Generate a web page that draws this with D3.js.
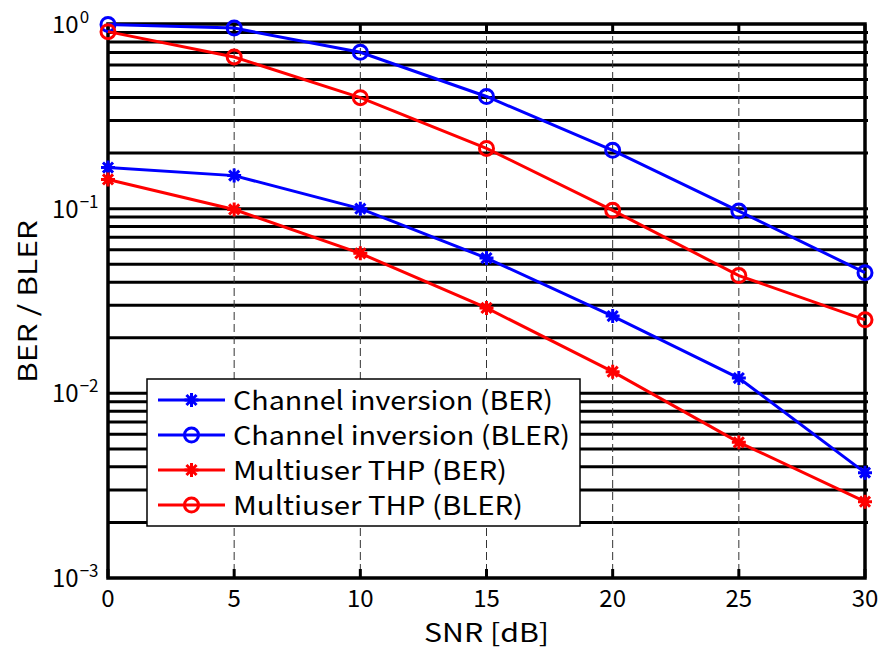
<!DOCTYPE html>
<html>
<head>
<meta charset="utf-8">
<script src="https://cdn.jsdelivr.net/npm/d3@7"></script>
<style>
	body { margin: 0; background: #fff; }
	svg text { font-family: "Noto Sans CJK JP", "Noto Sans", sans-serif; fill: #000; }
</style>
</head>
<body>
<svg id="chart" width="883" height="651"></svg>
<script>
// SNR points (dB)
const snr = [0, 5, 10, 15, 20, 25, 30];

// values
const ciBer = [0.167, 0.151, 0.100, 0.054, 0.0262, 0.0121, 0.00372];
const ciBler = [0.995, 0.95, 0.703, 0.405, 0.207, 0.097, 0.045];
const thpBer = [0.144, 0.099, 0.0573, 0.029, 0.0131, 0.00543, 0.00259];
const thpBler = [0.909, 0.663, 0.399, 0.212, 0.098, 0.0434, 0.025];

const xTicks = [0, 5, 10, 15, 20, 25, 30];
const yDecades = [1e-3, 1e-2, 1e-1, 1e0];

const series = [
	{ name: "Channel inversion (BER)", values: ciBer, color: "#0000ff", marker: "star", w: 320 },
	{ name: "Channel inversion (BLER)", values: ciBler, color: "#0000ff", marker: "circle", w: 337 },
	{ name: "Multiuser THP (BER)", values: thpBer, color: "#ff0000", marker: "star", w: 274 },
	{ name: "Multiuser THP (BLER)", values: thpBler, color: "#ff0000", marker: "circle", w: 290 },
];

const svg = d3.select("svg#chart");
const plot = { left: 108, right: 865, top: 24, bottom: 578 };

const x = d3.scaleLinear().domain([0, 30]).range([plot.left, plot.right]);
const y = d3.scaleLog().domain([1e-3, 1]).range([plot.bottom, plot.top]);

// horizontal grid at every 1..9 x decade (solid, heavy)
let gridVals = [];
for (let d of yDecades.slice(0, 3)) {
	for (let m = 1; m <= 9; m++) {
		if (d * m > 1e-3) gridVals.push(d * m);
	}
}
svg.append("g")
	.selectAll("line")
	.data(gridVals)
	.join("line")
	.attr("x1", plot.left)
	.attr("x2", plot.right + 3)
	.attr("y1", (d) => y(d))
	.attr("y2", (d) => y(d))
	.attr("stroke", "#000")
	.attr("stroke-width", 3);

// vertical dashed grid
svg.append("g")
	.selectAll("line")
	.data(xTicks.slice(1, -1))
	.join("line")
	.attr("x1", (d) => x(d))
	.attr("x2", (d) => x(d))
	.attr("y1", plot.top)
	.attr("y2", plot.bottom)
	.attr("stroke", "#333")
	.attr("stroke-width", 1)
	.attr("stroke-dasharray", "8,4");

// x ticks, top and bottom
const tickG = svg.append("g");
tickG.selectAll("line.tb")
	.data(xTicks)
	.join("line")
	.classed("tb", true)
	.attr("x1", (d) => x(d))
	.attr("x2", (d) => x(d))
	.attr("y1", plot.bottom)
	.attr("y2", plot.bottom - 9)
	.attr("stroke", "#000")
	.attr("stroke-width", 3);
tickG.selectAll("line.tt")
	.data(xTicks)
	.join("line")
	.classed("tt", true)
	.attr("x1", (d) => x(d))
	.attr("x2", (d) => x(d))
	.attr("y1", plot.top)
	.attr("y2", plot.top + 9)
	.attr("stroke", "#000")
	.attr("stroke-width", 3);

// axes box
svg.append("rect")
	.attr("x", plot.left)
	.attr("y", plot.top)
	.attr("width", plot.right - plot.left)
	.attr("height", plot.bottom - plot.top)
	.attr("fill", "none")
	.attr("stroke", "#000")
	.attr("stroke-width", 3.5);

// x tick labels
svg.append("g")
	.selectAll("text")
	.data(xTicks)
	.join("text")
	.attr("x", (d) => x(d))
	.attr("y", 607)
	.attr("text-anchor", "middle")
	.attr("font-size", 24)
	.text((d) => d);

// y tick labels 10^k
const yl = svg.append("g")
	.selectAll("text")
	.data(yDecades)
	.join("text")
	.attr("x", 52)
	.attr("y", (d) => y(d) + 9)
	.attr("font-size", 24);
yl.append("tspan").text("10");
yl.append("tspan")
	.attr("dy", -10)
	.attr("dx", 1)
	.attr("font-size", 17)
	.text((d) => {
		let e = Math.round(Math.log10(d));
		return e < 0 ? "\u2212" + Math.abs(e) : e;
	});

// axis titles
svg.append("text")
	.attr("x", 424)
	.attr("y", 642)
	.attr("font-size", 25)
	.attr("textLength", 125)
	.attr("lengthAdjust", "spacingAndGlyphs")
	.text("SNR [dB]");
svg.append("text")
	.attr("transform", "translate(37 383) rotate(-90)")
	.attr("font-size", 25)
	.attr("textLength", 163)
	.attr("lengthAdjust", "spacingAndGlyphs")
	.text("BER / BLER");

// draws a marker of given type centred at 0,0
function drawMarker(g, type, color) {
	if (type === "circle") {
		g.append("circle")
			.attr("r", 7)
			.attr("fill", "none")
			.attr("stroke", color)
			.attr("stroke-width", 3);
	} else {
		const s = 7;
		const dd = s * 0.72;
		const path = `M${-s},0L${s},0M0,${-s}L0,${s}M${-dd},${-dd}L${dd},${dd}M${-dd},${dd}L${dd},${-dd}`;
		g.append("path")
			.attr("d", path)
			.attr("stroke", color)
			.attr("stroke-width", 3)
			.attr("fill", "none");
	}
}

const line = d3.line()
	.x((d) => x(d[0]))
	.y((d) => y(d[1]));

const seriesG = svg.append("g");
series.forEach((s) => {
	const pts = snr.map((v, i) => [v, s.values[i]]);
	seriesG.append("path")
		.attr("d", line(pts))
		.attr("fill", "none")
		.attr("stroke", s.color)
		.attr("stroke-width", 3);
	pts.forEach((p) => {
		const mg = seriesG.append("g")
			.attr("transform", `translate(${x(p[0])}, ${y(p[1])})`);
		drawMarker(mg, s.marker, s.color);
	});
});

// legend
const leg = { x: 147, y: 379, w: 433, h: 147, rowY: 21, rowH: 35 };
const legG = svg.append("g").attr("transform", `translate(${leg.x}, ${leg.y})`);
legG.append("rect")
	.attr("width", leg.w)
	.attr("height", leg.h)
	.attr("fill", "#fff")
	.attr("stroke", "#000")
	.attr("stroke-width", 1.5);
const rows = legG.selectAll("g.row")
	.data(series)
	.join("g")
	.classed("row", true)
	.attr("transform", (d, i) => `translate(0, ${leg.rowY + i * leg.rowH})`);
rows.append("line")
	.attr("x1", 11)
	.attr("x2", 78)
	.attr("stroke", (d) => d.color)
	.attr("stroke-width", 3);
rows.each(function (d) {
	const mg = d3.select(this).append("g").attr("transform", "translate(44.5, 0)");
	drawMarker(mg, d.marker, d.color);
});
rows.append("text")
	.attr("x", 86)
	.attr("y", 10)
	.attr("font-size", 26)
	.attr("textLength", (d) => d.w)
	.attr("lengthAdjust", "spacingAndGlyphs")
	.text((d) => d.name);
</script>
</body>
</html>
